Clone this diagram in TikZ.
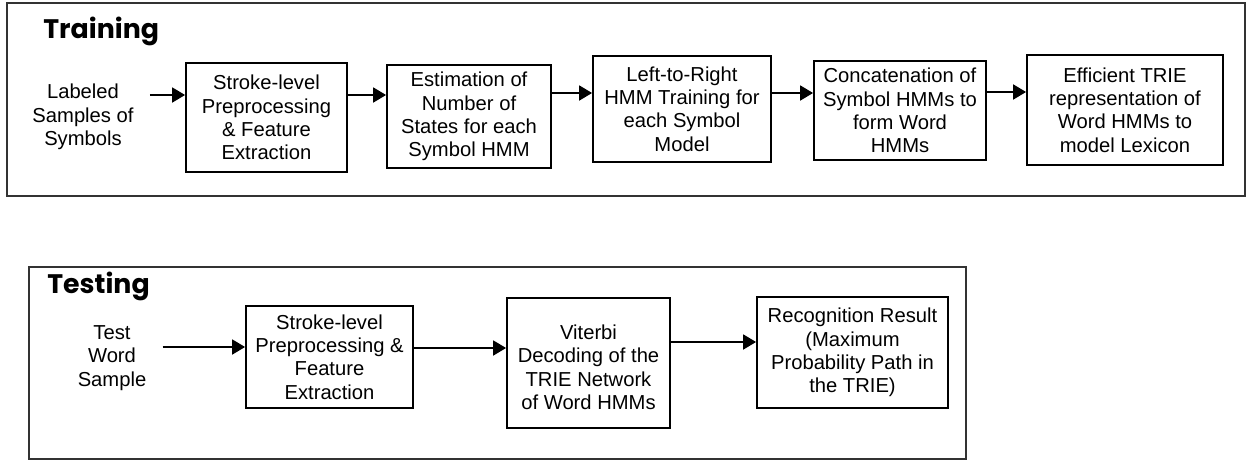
\documentclass[tikz,border=0pt]{standalone}
\usepackage{fontspec}
\setmainfont{Liberation Sans}
\newfontfamily\headfont{Poppins}
\usetikzlibrary{calc, arrows.meta}

\begin{document}
\begin{tikzpicture}[x=0.5pt, y=-0.5pt,
    every node/.style={font=\fontsize{10.1}{11.7}\selectfont},
    stage/.style={draw, line width=0.9pt, align=center, inner sep=0pt},
    frame/.style={draw=black!80, line width=1pt},
    flow/.style={line width=0.9pt, -{Triangle[length=6.5pt, width=7.5pt]}},
    head/.style={anchor=base west, inner sep=0pt, font=\headfont\fontsize{13.4}{15}\selectfont\bfseries}]

    \useasboundingbox (0,0) rectangle (1248,461);

    % training
    \draw[frame] (7,3) rectangle (1245,196);
    \node[head] (train) at (43,38) {Training};

    \node[align=center, inner xsep=8pt] (lab) at (83,117) {Labeled\\Samples of\\Symbols};
    \node[stage, minimum width=80.5pt, minimum height=54.5pt] (pre) at (266.5,117.5)
        {Stroke-level\\Preprocessing\\\& Feature\\Extraction};
    \node[stage, minimum width=82pt, minimum height=51.5pt] (est) at (469,116.5)
        {Estimation of\\Number of\\States for each\\Symbol HMM};
    \node[stage, minimum width=89pt, minimum height=53pt] (hmm) at (682,109)
        {Left-to-Right\\HMM Training for\\each Symbol\\Model};
    \node[stage, minimum width=86pt, minimum height=49.5pt] (cat) at (900,110.5)
        {Concatenation of\\Symbol HMMs to\\form Word\\HMMs};
    \node[stage, minimum width=98pt, minimum height=55pt] (trie) at (1125,110)
        {Efficient TRIE\\representation of\\Word HMMs to\\model Lexicon};

    \draw[flow] (lab.east |- 0,95) -- (pre.west |- 0,95);
    \draw[flow] (pre.east |- 0,95) -- (est.west |- 0,95);
    \draw[flow] (est.east |- 0,93) -- (hmm.west |- 0,93);
    \draw[flow] (hmm.east |- 0,93) -- (cat.west |- 0,93);
    \draw[flow] (cat.east |- 0,92) -- (trie.west |- 0,92);

    % testing
    \draw[frame] (29,267) rectangle (966,459);
    \node[head] (test) at (47,293) {Testing};

    \node[align=center, inner xsep=8pt] (word) at (112,358) {Test\\Word\\Sample};
    \node[stage, minimum width=83.5pt, minimum height=51pt] (tpre) at (329.5,357)
        {Stroke-level\\Preprocessing \&\\Feature\\Extraction};
    \node[stage, minimum width=81.5pt, minimum height=65pt] (vit) at (588.5,363)
        {~\\Viterbi\\Decoding of the\\TRIE Network\\of Word HMMs};
    \node[stage, minimum width=95.5pt, minimum height=55.5pt] (res) at (852.5,352.5)
        {Recognition Result\\(Maximum\\Probability Path in\\the TRIE)};

    \draw[flow] (word.east |- 0,347) -- (tpre.west |- 0,347);
    \draw[flow] (tpre.east |- 0,348) -- (vit.west |- 0,348);
    \draw[flow] (vit.east |- 0,342) -- (res.west |- 0,342);

\end{tikzpicture}
\end{document}
